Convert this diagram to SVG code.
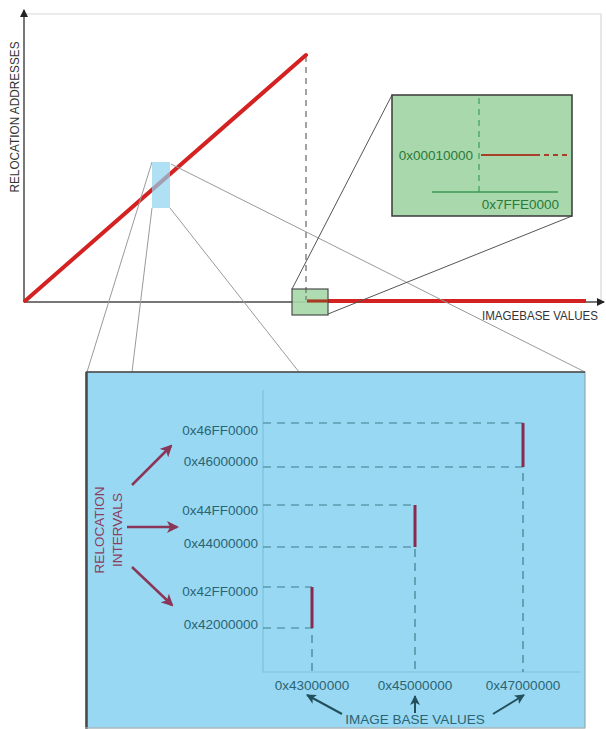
<svg xmlns="http://www.w3.org/2000/svg" width="606" height="729" viewBox="0 0 606 729">
  <defs>
    <style>
      .lbl { font-family: "Liberation Sans", Arial, sans-serif; }
      .axis { stroke: #4a4a4a; stroke-width: 1.5; fill: none; }
      .zoomline { stroke: #9a9a9a; stroke-width: 1; fill: none; }
      .zoomline-dark { stroke: #555; stroke-width: 1; fill: none; }
      .hex { font-size: 13.5px; fill: #2a6474; }
      .hexg { font-size: 13.5px; fill: #2a7a3a; }
      .guide { stroke: #3f7e8e; stroke-width: 1.2; stroke-dasharray: 8 6; fill: none; }
      .bar { stroke: #8a2a4e; stroke-width: 3; }
      .pointer { stroke: #8a3658; stroke-width: 2.5; fill: none; }
      .pointer-base { stroke: #22505d; stroke-width: 2; fill: none; }
    </style>
    <marker id="ax" markerWidth="8" markerHeight="8" refX="7" refY="4" orient="auto" markerUnits="userSpaceOnUse">
      <path d="M0,0 L8,4 L0,8 z" fill="#222"/>
    </marker>
    <marker id="mr" markerWidth="12" markerHeight="12" refX="10" refY="6" orient="auto" markerUnits="userSpaceOnUse">
      <path d="M0,0 L12,6 L0,12 L3,6 z" fill="#8a3658"/>
    </marker>
    <marker id="mb" markerWidth="10" markerHeight="10" refX="9" refY="5" orient="auto" markerUnits="userSpaceOnUse">
      <path d="M0,0 L10,5 L0,10 L2.5,5 z" fill="#22505d"/>
    </marker>
  </defs>

  <rect width="606" height="729" fill="#ffffff"/>

  <!-- plot frame and axes -->
  <g id="chart">
    <polyline points="24,14 601,14 601,300" fill="none" stroke="#d8d8d8" stroke-width="1.2"/>
    <line class="axis" x1="24" y1="302" x2="24" y2="10" marker-end="url(#ax)"/>
    <line class="axis" x1="24" y1="302" x2="604" y2="302" marker-end="url(#ax)"/>
    <line x1="306" y1="56" x2="306" y2="300" stroke="#666" stroke-width="1.2" stroke-dasharray="6 5"/>
    <line x1="25" y1="301" x2="306" y2="55" stroke="#d42222" stroke-width="4" stroke-linecap="round"/>
    <line x1="307" y1="301" x2="586" y2="301" stroke="#d42222" stroke-width="4"/>
    <text class="lbl" transform="translate(19,117) rotate(-90)" text-anchor="middle" font-size="12.5" fill="#333" textLength="151" lengthAdjust="spacingAndGlyphs">RELOCATION ADDRESSES</text>
    <text class="lbl" x="540" y="320" text-anchor="middle" font-size="12.5" fill="#333" textLength="116" lengthAdjust="spacingAndGlyphs">IMAGEBASE VALUES</text>
  </g>

  <!-- zoom connectors -->
  <g id="connectors">
    <line class="zoomline" x1="152" y1="162" x2="87" y2="372"/>
    <line class="zoomline" x1="152" y1="208" x2="132" y2="372"/>
    <line class="zoomline" x1="170" y1="208" x2="299" y2="372"/>
    <line class="zoomline" x1="171" y1="164" x2="585" y2="372"/>
    <line class="zoomline-dark" x1="292" y1="289" x2="392" y2="95"/>
    <line class="zoomline-dark" x1="328" y1="314" x2="572" y2="216"/>
  </g>

  <!-- region selectors on the main plot -->
  <g id="blue-region">
    <rect x="152" y="162" width="18" height="46" fill="#8fd3ef" opacity="0.7"/>
  </g>
  <g id="green-region">
    <rect x="292" y="289" width="36" height="26" fill="#a6d8a8" stroke="#3a3a3a" stroke-width="1.2" opacity="0.9"/>
    <line x1="306" y1="289" x2="306" y2="300" stroke="#666" stroke-width="1" stroke-dasharray="4 3"/>
    <line x1="307" y1="301" x2="328" y2="301" stroke="#a83a20" stroke-width="3"/>
  </g>

  <!-- low-address inset -->
  <g id="green-inset">
    <rect x="392" y="95" width="180" height="121" fill="#a8d8ab" stroke="#3a3a3a" stroke-width="1.5"/>
    <line x1="479" y1="98" x2="479" y2="192" stroke="#3f9e5a" stroke-width="1.2" stroke-dasharray="6 5"/>
    <line x1="481" y1="155" x2="540" y2="155" stroke="#a8402a" stroke-width="2"/>
    <line x1="544" y1="155" x2="568" y2="155" stroke="#a8402a" stroke-width="2" stroke-dasharray="5 4"/>
    <line x1="432" y1="192" x2="558" y2="192" stroke="#3a9a55" stroke-width="1.5"/>
    <text class="lbl hexg" x="473" y="160" text-anchor="end">0x00010000</text>
    <text class="lbl hexg" x="559" y="209" text-anchor="end">0x7FFE0000</text>
  </g>

  <!-- relocation interval inset -->
  <g id="blue-inset">
    <rect x="86" y="372" width="499" height="356" fill="#98d8f2" stroke="#8a9aa0" stroke-width="1"/>
    <line x1="86" y1="372" x2="585" y2="372" stroke="#4a4a4a" stroke-width="1.5"/>
    <line x1="86.5" y1="372" x2="86.5" y2="729" stroke="#4a4a4a" stroke-width="2.5"/>
    <line x1="85" y1="728" x2="585" y2="728" stroke="#b8c8cc" stroke-width="1"/>

    <!-- inner axes -->
    <polyline points="263,390 263,672 580,672" fill="none" stroke="#7cc2dc" stroke-width="1.2"/>

    <!-- interval guides -->
    <polyline class="guide" points="263,423 523,423"/>
    <polyline class="guide" points="263,467 523,467 523,672"/>
    <polyline class="guide" points="263,505 415,505"/>
    <polyline class="guide" points="263,547 415,547 415,672"/>
    <polyline class="guide" points="263,587 312,587"/>
    <polyline class="guide" points="263,628 312,628 312,672"/>

    <!-- interval bars -->
    <line class="bar" x1="523" y1="423" x2="523" y2="467"/>
    <line class="bar" x1="415" y1="505" x2="415" y2="547"/>
    <line class="bar" x1="312" y1="587" x2="312" y2="628"/>

    <!-- relocation address labels -->
    <text class="lbl hex" x="258" y="435" text-anchor="end">0x46FF0000</text>
    <text class="lbl hex" x="258" y="466" text-anchor="end">0x46000000</text>
    <text class="lbl hex" x="258" y="515" text-anchor="end">0x44FF0000</text>
    <text class="lbl hex" x="258" y="548" text-anchor="end">0x44000000</text>
    <text class="lbl hex" x="258" y="596" text-anchor="end">0x42FF0000</text>
    <text class="lbl hex" x="258" y="629" text-anchor="end">0x42000000</text>

    <!-- image base labels -->
    <text class="lbl hex" x="312" y="690" text-anchor="middle">0x43000000</text>
    <text class="lbl hex" x="415" y="690" text-anchor="middle">0x45000000</text>
    <text class="lbl hex" x="523" y="690" text-anchor="middle">0x47000000</text>

    <!-- relocation intervals caption and pointers -->
    <text class="lbl" transform="translate(104,530) rotate(-90)" text-anchor="middle" font-size="13.5" fill="#8a3e60">RELOCATION</text>
    <text class="lbl" transform="translate(122,530) rotate(-90)" text-anchor="middle" font-size="13.5" fill="#8a3e60">INTERVALS</text>
    <line class="pointer" x1="132" y1="485" x2="171" y2="446" marker-end="url(#mr)"/>
    <line class="pointer" x1="127" y1="527" x2="177" y2="527" marker-end="url(#mr)"/>
    <line class="pointer" x1="132" y1="567" x2="172" y2="605" marker-end="url(#mr)"/>

    <!-- image base caption and pointers -->
    <text class="lbl" x="415" y="724" text-anchor="middle" font-size="13.5" fill="#2a6474">IMAGE BASE VALUES</text>
    <line class="pointer-base" x1="342" y1="714" x2="307" y2="695" marker-end="url(#mb)"/>
    <line class="pointer-base" x1="415" y1="713" x2="415" y2="696" marker-end="url(#mb)"/>
    <line class="pointer-base" x1="493" y1="714" x2="524" y2="695" marker-end="url(#mb)"/>
  </g>
</svg>
